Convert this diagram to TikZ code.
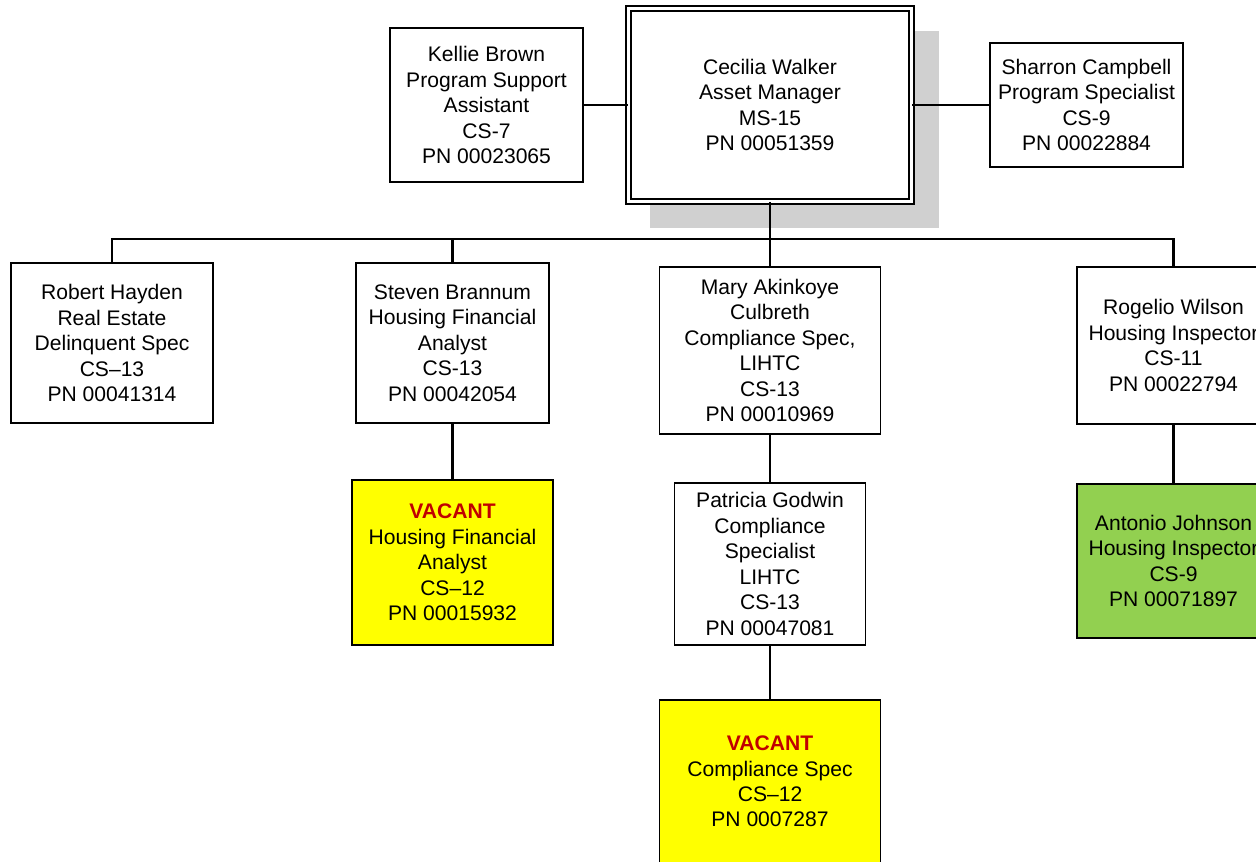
\documentclass[tikz,border=0pt]{standalone}
\usepackage{fontspec}
\setmainfont{Liberation Sans}
\usetikzlibrary{shadows}
\definecolor{shadowgray}{RGB}{208,208,208}
\definecolor{vacyellow}{RGB}{255,255,0}
\definecolor{vacred}{RGB}{192,0,0}
\definecolor{filledgreen}{RGB}{146,208,80}
\newcommand{\vacant}{\textcolor{vacred}{\textbf{VACANT}}}

\begin{document}
\begin{tikzpicture}[x=0.02cm, y=-0.02cm, line width=1.1pt,
      person/.style={rectangle, draw, fill=white, align=center, inner sep=0pt,
                  font=\fontsize{12}{14.5}\selectfont},
      sz/.style 2 args={minimum width=#1*0.02cm, minimum height=#2*0.02cm},
      vac/.style={person, fill=vacyellow},
      filled/.style={person, fill=filledgreen},
      head/.style={person, double, line width=0.9pt, double distance=0.06cm,
                   drop shadow={shadow xshift=0.48cm, shadow yshift=-0.48cm,
                                shadow scale=1.02, fill=shadowgray, opacity=1}},
      link/.style={line width=1.3pt}]
    \useasboundingbox (0,0) rectangle (1256,861);
    \clip (0,0) rectangle (1256,861);
    % top row
    \node[head, sz={283}{193}] (cw) at (770,105) {Cecilia Walker\\Asset Manager\\MS-15\\PN 00051359};
    \node[person, sz={193}{154}]  (kb) at (486.5,105) {Kellie Brown\\Program Support\\Assistant\\CS-7\\PN 00023065};
    \node[person, sz={193}{124}]  (sc) at (1086.5,105) {Sharron Campbell\\Program Specialist\\CS-9\\PN 00022884};
    % direct reports
    \node[person, sz={202}{160}]  (rh) at (112,343) {Robert Hayden\\Real Estate\\Delinquent Spec\\CS--13\\PN 00041314};
    \node[person, sz={193}{160}]  (sb) at (452.5,343) {Steven Brannum\\Housing Financial\\Analyst\\CS-13\\PN 00042054};
    \node[person, sz={221}{167}]  (ma) at (770,350.5) {Mary Akinkoye\\Culbreth\\Compliance Spec,\\LIHTC\\CS-13\\PN 00010969};
    \node[person, sz={193}{157}]  (rw) at (1173.5,345.5) {Rogelio Wilson\\Housing Inspector\\CS-11\\PN 00022794};
    % second level
    \node[vac, sz={201}{165}]  (vh) at (452.5,562.5) {\vacant\\Housing Financial\\Analyst\\CS--12\\PN 00015932};
    \node[person, sz={191}{162}]  (pg) at (770,564) {Patricia Godwin\\Compliance\\Specialist\\LIHTC\\CS-13\\PN 00047081};
    \node[filled, sz={193}{154}] (aj) at (1173.5,561) {Antonio Johnson\\Housing Inspector\\CS-9\\PN 00071897};
    \node[vac, sz={221}{163}]  (vc) at (770,781.5) {\vacant\\Compliance Spec\\CS--12\\PN 0007287};
    % lines
    \coordinate (bus) at (770,239);
    \draw[link] (kb) -- (cw);
    \draw[link] (sc) -- (cw);
    \draw[link] (cw.south) -- (ma.north);
    \draw[link] (bus) -| (rh.north);
    \draw[link] (bus) -| (sb.north);
    \draw[link] (bus) -| (rw.north);
    \draw[link] (sb) -- (vh);
    \draw[link] (ma) -- (pg);
    \draw[link] (pg) -- (vc);
    \draw[link] (rw) -- (aj);
  \end{tikzpicture}
\end{document}
